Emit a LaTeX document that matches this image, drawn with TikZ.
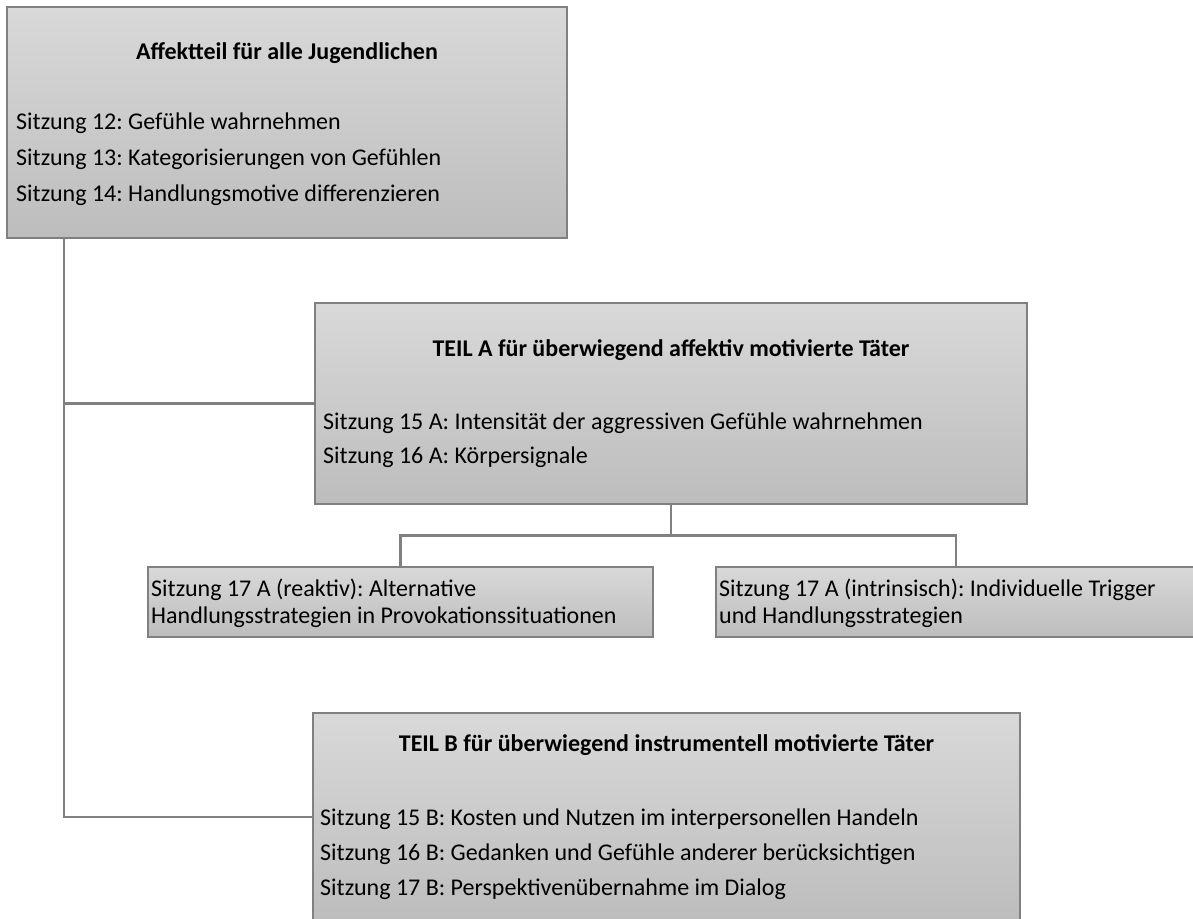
\documentclass[tikz,border=0pt]{standalone}
\usepackage{fontspec}
\setmainfont{Carlito}
\usetikzlibrary{positioning,calc}
\frenchspacing

\begin{document}
\begin{tikzpicture}[
        x=1pt, y=-1pt,
        panel/.style={
            rectangle,
            draw=black!50,
            line width=1.3pt,
            top color=black!15,
            bottom color=black!26,
            inner sep=0pt
        },
        title/.style={
            font=\fontsize{24}{29}\selectfont\bfseries,
            inner sep=0pt,
            anchor=base
        },
        item/.style={
            font=\fontsize{24}{29}\selectfont,
            inner sep=0pt,
            anchor=base west
        },
        link/.style={draw=black!50, line width=2.4pt}
    ]
    \useasboundingbox (0,0) rectangle (1193,918);

    % Kästen
    \node[panel, minimum width=560pt, minimum height=231pt] (affekt) at (287,122.5) {};
    \node[panel, minimum width=712pt, minimum height=201pt] (teilA) at (671,403.5) {};
    \node[panel, minimum width=505pt, minimum height=70pt] (reaktiv) at (400.5,602) {};
    \node[panel, minimum width=480pt, minimum height=70pt] (intrins) at (956,602) {};
    \node[panel, minimum width=707pt, minimum height=208pt] (teilB) at (666.5,817) {};

    % Affektteil
    \node[title] (affektT) at (287,59) {Affektteil für alle Jugendlichen};
    \foreach \txt [count=\i] in {Sitzung 12: Gefühle wahrnehmen,
            Sitzung 13: Kategorisierungen von Gefühlen,
            Sitzung 14: Handlungsmotive differenzieren}
        \node[item] (affekt\i) at (16,129+36*\i-36) {\txt};

    % Teil A
    \node[title] (teilAT) at (671,356) {TEIL A für überwiegend affektiv motivierte Täter};
    \node[item] (teilA1) at (323,429) {Sitzung 15 A: Intensität der aggressiven Gefühle wahrnehmen};
    \node[item] (teilA2) at (323,463) {Sitzung 16 A: Körpersignale};

    % Sitzung 17 A
    \node[item] (reaktiv1) at (151,596) {Sitzung 17 A (reaktiv): Alternative};
    \node[item] (reaktiv2) at (151,623) {Handlungsstrategien in Provokationssituationen};
    \node[item] (intrins1) at (719,596) {Sitzung 17 A (intrinsisch): Individuelle Trigger};
    \node[item] (intrins2) at (719,623) {und Handlungsstrategien};

    % Teil B
    \node[title] (teilBT) at (666.5,751) {TEIL B für überwiegend instrumentell motivierte Täter};
    \foreach \txt [count=\i] in {Sitzung 15 B: Kosten und Nutzen im interpersonellen Handeln,
            Sitzung 16 B: Gedanken und Gefühle anderer berücksichtigen,
            Sitzung 17 B: Perspektivenübernahme im Dialog}
        \node[item] (teilB\i) at (320,825+35*\i-35) {\txt};

    % Verbindungen
    \coordinate (trunk) at ([xshift=-223pt]affekt.south);
    \draw[link] (trunk) |- (teilB.west);
    \draw[link] (trunk |- teilA.west) -- (teilA.west);
    \draw[link] (teilA.south) -- ++(0,31) coordinate (fork) -| (reaktiv.north);
    \draw[link] (fork) -| (intrins.north);

\end{tikzpicture}
\end{document}
